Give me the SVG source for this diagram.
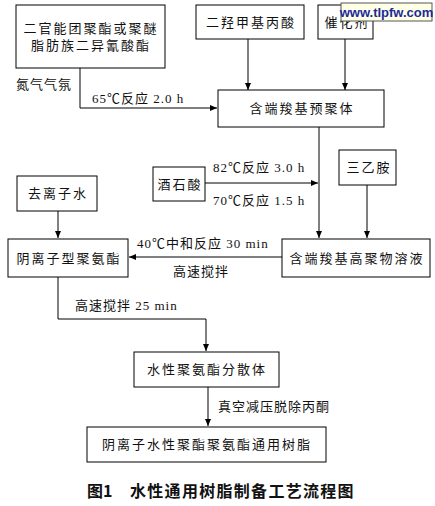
<svg xmlns="http://www.w3.org/2000/svg" width="435" height="506" viewBox="0 0 435 506">
<style>
.box{fill:#fff;stroke:#000;stroke-width:1}
.t{font-family:"Liberation Serif","Noto Sans CJK SC",serif;font-size:13px;letter-spacing:2px;fill:#111}
.c{text-anchor:middle}
.l{font-family:"Liberation Serif","Noto Sans CJK SC",serif;font-size:13px;letter-spacing:1px;fill:#111}
.con{fill:none;stroke:#000;stroke-width:1}
</style>
<defs>
<marker id="ar" markerUnits="userSpaceOnUse" markerWidth="8" markerHeight="6" refX="7" refY="3" orient="auto">
<path d="M0,0 L7,3 L0,6 z" fill="#000"/>
</marker>
</defs>
<rect width="435" height="506" fill="#fff"/>
<g id="connectors">
<path class="con" d="M80,68 V108 H217" marker-end="url(#ar)"/>
<path class="con" d="M248,39 V90" marker-end="url(#ar)"/>
<path class="con" d="M345,39 V90" marker-end="url(#ar)"/>
<path class="con" d="M319,127 V238" marker-end="url(#ar)"/>
<path class="con" d="M205,183 H318" marker-end="url(#ar)"/>
<path class="con" d="M367,185 V238" marker-end="url(#ar)"/>
<path class="con" d="M282,257 H129" marker-end="url(#ar)"/>
<path class="con" d="M58,211 V238" marker-end="url(#ar)"/>
<path class="con" d="M58,277 V319 H206 V351" marker-end="url(#ar)"/>
<path class="con" d="M208,387 V426" marker-end="url(#ar)"/>
<text class="l" x="16" y="89">氮气气氛</text>
<text class="l" x="92" y="103">65℃反应 2.0 h</text>
<text class="l" x="213" y="172">82℃反应 3.0 h</text>
<text class="l" x="213" y="205">70℃反应 1.5 h</text>
<text class="l" x="137" y="248">40℃中和反应 30 min</text>
<text class="l" x="173" y="276">高速搅拌</text>
<text class="l" x="75" y="310">高速搅拌 25 min</text>
<text class="l" x="218" y="411">真空减压脱除丙酮</text>
</g>
<g id="n1"><rect class="box" x="16" y="5" width="149" height="63"/><text class="t c" x="91" y="33">二官能团聚酯或聚醚</text><text class="t c" x="91" y="50">脂肪族二异氰酸酯</text></g>
<g id="n2"><rect class="box" x="196" y="5" width="108" height="34"/><text class="t c" x="251" y="27">二羟甲基丙酸</text></g>
<g id="n3"><rect class="box" x="318" y="5" width="55" height="34"/><text class="t c" x="347" y="27">催化剂</text></g>
<g id="n4"><rect class="box" x="218" y="90" width="166" height="37"/><text class="t c" x="302" y="113">含端羧基预聚体</text></g>
<g id="n5"><rect class="box" x="153" y="167" width="52" height="34"/><text class="t c" x="180" y="189">酒石酸</text></g>
<g id="n6"><rect class="box" x="339" y="150" width="57" height="35"/><text class="t c" x="369" y="172">三乙胺</text></g>
<g id="n7"><rect class="box" x="282" y="239" width="148" height="38"/><text class="t c" x="357" y="263">含端羧基高聚物溶液</text></g>
<g id="n8"><rect class="box" x="17" y="176" width="80" height="35"/><text class="t c" x="58" y="198">去离子水</text></g>
<g id="n9"><rect class="box" x="8" y="239" width="120" height="38"/><text class="t c" x="69" y="263">阴离子型聚氨酯</text></g>
<g id="n10"><rect class="box" x="134" y="352" width="145" height="35"/><text class="t c" x="207" y="374">水性聚氨酯分散体</text></g>
<g id="n11"><rect class="box" x="87" y="427" width="239" height="35"/><text class="t c" x="207" y="449">阴离子水性聚酯聚氨酯通用树脂</text></g>
<text x="87" y="497" style="font-family:'Noto Sans CJK SC','Liberation Sans',sans-serif;font-size:16px;font-weight:bold;fill:#111">图1</text>
<text x="130" y="497" style="font-family:'Noto Sans CJK SC','Liberation Sans',sans-serif;font-size:16px;font-weight:bold;letter-spacing:1.3px;fill:#111">水性通用树脂制备工艺流程图</text>
<g id="watermark"><rect x="341" y="3" width="91" height="18" fill="#ffffe6" stroke="#555" stroke-width="1"/><text x="386.5" y="16.5" text-anchor="middle" style="font-family:'Liberation Sans',sans-serif;font-size:13px;font-weight:bold;fill:#1a2a9a">www.tlpfw.com</text></g>
</svg>
